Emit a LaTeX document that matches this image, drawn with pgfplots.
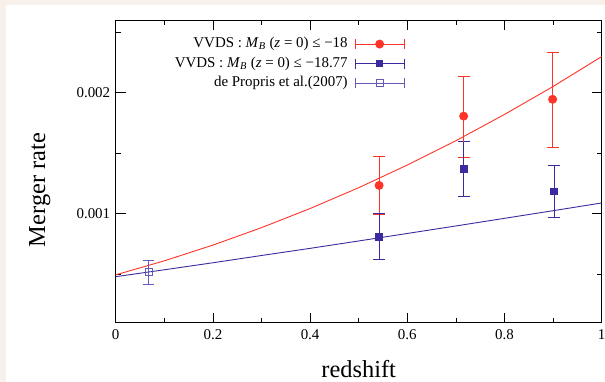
\documentclass[border=0pt]{standalone}
\usepackage{pgfplots}
\pgfplotsset{compat=1.18}
\usepackage{fontspec}
\setmainfont{Liberation Serif}
\definecolor{myred}{RGB}{255,52,40}
\definecolor{myblue}{RGB}{58,44,158}
\definecolor{mylight}{RGB}{100,90,190}
\definecolor{beige}{RGB}{247,240,235}
\pgfplotsset{
  errleg/.style={legend image code/.code={
    \draw[mark=none] (0bp,0bp) -- (49bp,0bp);
    \draw[mark=none] (0bp,-5bp) -- (0bp,5bp);
    \draw[mark=none] (49bp,-5bp) -- (49bp,5bp);
    \draw[only marks] plot coordinates {(24.5bp,0bp)};
  }}
}
\begin{document}
\begin{tikzpicture}
\path[use as bounding box] (-115.7bp,-59.3bp) rectangle (489.3bp,322.7bp);
\fill[beige] (-115.7bp,-59.3bp) rectangle (489.3bp,322.7bp);
\fill[white] (-109.7bp,-59.3bp) rectangle (489.3bp,317.7bp);
\begin{axis}[
  at={(0,0)}, anchor=origin,
  scale only axis, width=486bp, height=302.7bp,
  xmin=0, xmax=1, ymin=0.0001, ymax=0.0026,
  axis line style={line width=0.9bp, black},
  xtick={0,0.2,0.4,0.6,0.8,1}, minor x tick num=1,
  ytick={0.001,0.002}, minor ytick={0.0005,0.0015,0.0025},
  major tick length=10bp, minor tick length=5bp,
  tick style={black, line width=0.6bp},
  scaled y ticks=false, scaled x ticks=false,
  /pgf/number format/assume math mode=true,
  xticklabel style={/pgf/number format/fixed, /pgf/number format/precision=1, font=\fontsize{15}{17}\selectfont},
  yticklabel style={/pgf/number format/fixed, /pgf/number format/precision=3, /pgf/number format/fixed zerofill, font=\fontsize{15}{17}\selectfont},
  xticklabel={\pgfmathprintnumber[fixed,precision=1]{\tick}},
  xticklabel style={yshift=-3bp},
  yticklabel style={xshift=-2bp},
  xlabel={redshift}, ylabel={Merger rate},
  every axis x label/.style={at={(axis description cs:0.5,-0.152)}, anchor=center, inner sep=0pt, font=\fontsize{24.5}{28}\selectfont},
  every axis y label/.style={at={(axis description cs:-0.156,0.438)}, anchor=center, inner sep=0pt, rotate=90, font=\fontsize{24.5}{28}\selectfont},
  legend cell align=right, legend plot pos=right,
  legend style={at={(axis description cs:0.601,0.955)}, anchor=north east, draw=none, fill=none,
    font=\fontsize{15}{17}\selectfont, row sep=3bp, column sep=6bp,
    nodes={inner sep=1bp, text height=11bp, text depth=3.5bp}},
]
% model curves
\addplot[myred, line width=0.9bp, mark=none, forget plot] coordinates {
 (0,0.000495) (0.1,0.000611) (0.2,0.000741) (0.3,0.000885) (0.4,0.001043) (0.5,0.001215)
 (0.6,0.001402) (0.7,0.001603) (0.8,0.00182) (0.9,0.002051) (1.0,0.002298)};
\addplot[myblue, line width=0.9bp, mark=none, forget plot] coordinates {
 (0,0.00048) (0.1,0.000537) (0.2,0.000595) (0.3,0.000655) (0.4,0.000714) (0.5,0.000775)
 (0.6,0.000837) (0.7,0.000899) (0.8,0.000962) (0.9,0.001025) (1.0,0.001089)};
% error-bar caps (ends of error bars)
\addplot[myred, line width=0.9bp, mark=none, forget plot] table {
x y
0.5297 0.001475
0.5543 0.001475

0.5297 0.000998
0.5543 0.000998

0.7037 0.00213
0.7283 0.00213

0.7037 0.001466
0.7283 0.001466

0.8867 0.002336
0.9113 0.002336

0.8867 0.001547
0.9113 0.001547
};
\addplot[myblue, line width=0.9bp, mark=none, forget plot] table {
x y
0.5297 0.001002
0.5543 0.001002

0.5297 0.000619
0.5543 0.000619

0.7037 0.001594
0.7283 0.001594

0.7037 0.001143
0.7283 0.001143

0.8897 0.0014
0.9143 0.0014

0.8897 0.00097
0.9143 0.00097
};
\addplot[mylight, line width=0.7bp, mark=none, forget plot] table {
x y
0.0552 0.000619
0.0798 0.000619

0.0552 0.000418
0.0798 0.000418
};
% data
\addplot[myred, line width=0.9bp, only marks, mark=*, mark size=4bp, mark options={fill=myred, draw=myred}, errleg,
  error bars/.cd, y dir=both, y explicit, error mark=none, error bar style={line width=0.9bp, draw=myred}]
 coordinates {
 (0.542,0.001234) += (0,0.000241) -= (0,0.000236)
 (0.716,0.001806) += (0,0.000324) -= (0,0.00034)
 (0.899,0.001945) += (0,0.000391) -= (0,0.000398)
};
\addlegendentry{VVDS : \textit{M}\textsubscript{\textit{B}} (\textit{z} = 0) ≤ −18}
\addplot[myblue, line width=0.9bp, only marks, mark=square*, mark size=3.3bp, mark options={fill=myblue, draw=myblue}, errleg,
  error bars/.cd, y dir=both, y explicit, error mark=none, error bar style={line width=0.9bp, draw=myblue}]
 coordinates {
 (0.542,0.000807) += (0,0.000195) -= (0,0.000188)
 (0.716,0.00137) += (0,0.000224) -= (0,0.000227)
 (0.902,0.001185) += (0,0.000215) -= (0,0.000215)
};
\addlegendentry{VVDS : \textit{M}\textsubscript{\textit{B}} (\textit{z} = 0) ≤ −18.77}
\addplot[mylight, line width=0.7bp, only marks, mark=square, mark size=3.5bp, mark options={draw=mylight}, errleg,
  error bars/.cd, y dir=both, y explicit, error mark=none, error bar style={line width=0.7bp, draw=mylight}]
 coordinates {
 (0.0675,0.000522) += (0,0.000097) -= (0,0.000104)
};
\addlegendentry{de Propris et al.(2007)}
\end{axis}
\end{tikzpicture}
\end{document}
